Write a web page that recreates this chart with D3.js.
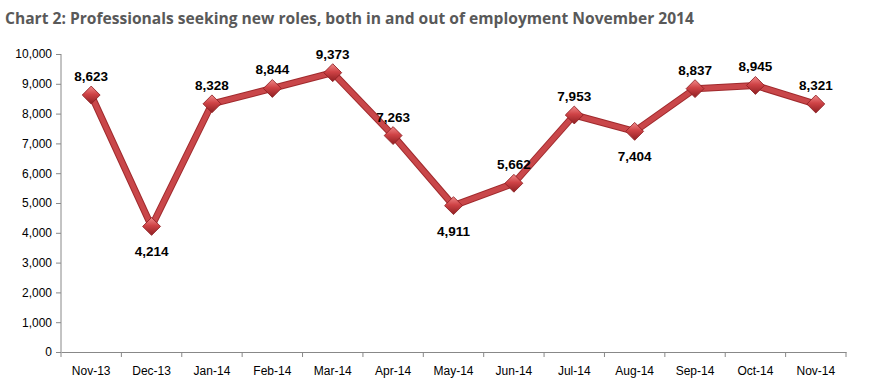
<!DOCTYPE html>
<html><head><meta charset="utf-8">
<script src="https://cdn.jsdelivr.net/npm/d3@7"></script>
<style>body{margin:0;background:#fff}</style>
</head><body>
<svg id="c" width="869" height="390"></svg>
<script>
const categories = ["Nov-13","Dec-13","Jan-14","Feb-14","Mar-14","Apr-14","May-14","Jun-14","Jul-14","Aug-14","Sep-14","Oct-14","Nov-14"];
const values = [8623,4214,8328,8844,9373,7263,4911,5662,7953,7404,8837,8945,8321];
const labelBelow = [false,true,false,false,false,false,true,false,false,true,false,false,false];
const yTicks = [0,1000,2000,3000,4000,5000,6000,7000,8000,9000,10000];
const title = "Chart 2: Professionals seeking new roles, both in and out of employment November 2014";

const svg = d3.select("#c");
const m = {l:61, r:23, t:54, b:38};
const W = 869, H = 390;
const x = d3.scaleBand().domain(categories).range([m.l, W - m.r]);
const y = d3.scaleLinear().domain([0,10000]).range([H - m.b, m.t]);

const defs = svg.append("defs");
const g1 = defs.append("linearGradient").attr("id","dg").attr("x1","0").attr("y1","0").attr("x2","1").attr("y2","1");
g1.append("stop").attr("offset","0%").attr("stop-color","#f08a8a");
g1.append("stop").attr("offset","45%").attr("stop-color","#cf4346");
g1.append("stop").attr("offset","100%").attr("stop-color","#8e1f22");

svg.append("text").attr("x",5).attr("y",24).text(title)
  .attr("font-family","Open Sans, sans-serif").attr("font-weight","bold").attr("font-size",15.6)
  .attr("fill","#595959");

const yAxis = svg.append("g").attr("transform",`translate(${m.l},0)`)
  .call(d3.axisLeft(y).tickValues(yTicks).tickFormat(d3.format(",")).tickSize(5).tickPadding(4));
const xAxis = svg.append("g").attr("transform",`translate(0,${H - m.b})`)
  .call(d3.axisBottom(x).tickSize(0).tickPadding(14));
xAxis.selectAll(".bt").data(d3.range(categories.length+1)).enter().append("line")
  .attr("x1",i=>m.l + i*x.step()).attr("x2",i=>m.l + i*x.step()).attr("y1",0).attr("y2",5).attr("stroke","#888");
[yAxis,xAxis].forEach(a=>{
  a.selectAll(".domain").attr("stroke","#888");
  a.selectAll(".tick line").attr("stroke","#888");
  a.selectAll("text").attr("font-family","Liberation Sans, Arial, sans-serif").attr("font-size",12).attr("fill","#000");
});
yAxis.select(".domain").attr("d",`M0,${m.t}V${H-m.b}`);

const cx = (d,i) => x(categories[i]) + x.bandwidth()/2;
const line = d3.line().x((d,i)=>cx(d,i)).y(d=>y(d));
svg.append("path").datum(values).attr("d",line).attr("fill","none")
  .attr("stroke","#a02a2d").attr("stroke-width",7).attr("stroke-linejoin","round");
svg.append("path").datum(values).attr("d",line).attr("fill","none")
  .attr("stroke","#c9474a").attr("stroke-width",5).attr("stroke-linejoin","round");

svg.selectAll(".pt").data(values).enter().append("path")
  .attr("transform",(d,i)=>`translate(${cx(d,i)},${y(d)}) rotate(45)`)
  .attr("d", d3.symbol().type(d3.symbolSquare).size(160))
  .attr("fill","url(#dg)").attr("stroke","#8e1f22").attr("stroke-width",0.8);

svg.selectAll(".lbl").data(values).enter().append("text")
  .attr("x",(d,i)=>cx(d,i)).attr("y",(d,i)=>y(d) + (labelBelow[i] ? 30 : -14))
  .attr("text-anchor","middle").text(d3.format(","))
  .attr("font-family","Liberation Sans, Arial, sans-serif").attr("font-weight","bold").attr("font-size",13.5).attr("fill","#000");
</script>
</body></html>
